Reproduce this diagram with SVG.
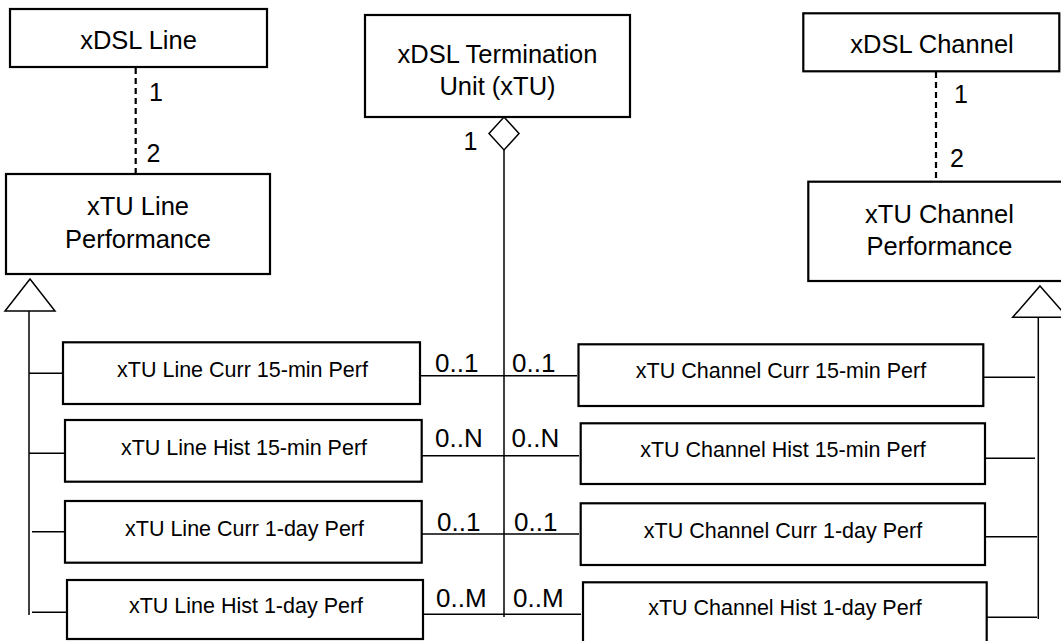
<svg xmlns="http://www.w3.org/2000/svg" width="1061" height="641" viewBox="0 0 1061 641">
<style>
.box{fill:#fff;stroke:#000;stroke-width:2.2}
.big{font-family:"Liberation Sans",Arial,sans-serif;font-size:25.5px;fill:#000;text-anchor:middle}
.sm{font-family:"Liberation Sans",Arial,sans-serif;font-size:21.5px;fill:#000;text-anchor:middle}
.mult{font-family:"Liberation Sans",Arial,sans-serif;font-size:25px;fill:#000}
.card{font-family:"Liberation Sans",Arial,sans-serif;font-size:26px;fill:#000}
.ln{fill:none;stroke:#000;stroke-width:1.5}
.dash{fill:none;stroke:#000;stroke-width:2.2;stroke-dasharray:6 4}
.tri{fill:#fff;stroke:#000;stroke-width:1.5}
</style>
<rect width="1061" height="641" fill="#fff"/>
<g id="connectors">
  <line class="dash" x1="135.7" y1="68" x2="135.7" y2="174"/>
  <line class="dash" x1="936" y1="72" x2="936" y2="181"/>
  <line class="ln" x1="504" y1="150" x2="504" y2="617"/>
  <polygon class="tri" points="504,117 519,133.5 504,150 489,133.5"/>
  <line class="ln" x1="420.7" y1="375.7" x2="577" y2="375.7"/>
  <line class="ln" x1="421.7" y1="455.7" x2="579" y2="455.7"/>
  <line class="ln" x1="421.7" y1="534" x2="579" y2="534"/>
  <line class="ln" x1="424" y1="614.3" x2="581" y2="614.3"/>
  <line class="ln" x1="29" y1="311" x2="29" y2="615"/>
  <polygon class="tri" points="30,279 55,311 5,311"/>
  <line class="ln" x1="29" y1="373.3" x2="63" y2="373.3"/>
  <line class="ln" x1="29" y1="453.3" x2="65" y2="453.3"/>
  <line class="ln" x1="32" y1="531.7" x2="65" y2="531.7"/>
  <line class="ln" x1="32" y1="612.3" x2="67" y2="612.3"/>
  <line class="ln" x1="1038.3" y1="317" x2="1038.3" y2="619"/>
  <polygon class="tri" points="1040,286 1067.5,317.3 1012.7,317.3"/>
  <line class="ln" x1="983" y1="377.3" x2="1035" y2="377.3"/>
  <line class="ln" x1="985" y1="458.3" x2="1035" y2="458.3"/>
  <line class="ln" x1="985" y1="536.7" x2="1037" y2="536.7"/>
  <line class="ln" x1="987" y1="617.3" x2="1037" y2="617.3"/>
  <text class="mult" x="149" y="101">1</text>
  <text class="mult" x="146.5" y="162">2</text>
  <text class="mult" x="954" y="103">1</text>
  <text class="mult" x="950" y="166.7">2</text>
  <text class="mult" x="463.5" y="150">1</text>
  <text class="card" x="435" y="371.7">0..1</text>
  <text class="card" x="512" y="371.7">0..1</text>
  <text class="card" x="435" y="446.7">0..N</text>
  <text class="card" x="511.5" y="446.7">0..N</text>
  <text class="card" x="437" y="530.7">0..1</text>
  <text class="card" x="514" y="530.7">0..1</text>
  <text class="card" x="436" y="607">0..M</text>
  <text class="card" x="513" y="607">0..M</text>
</g>
<g id="xdsl-line">
  <rect class="box" x="10" y="9" width="257" height="58"/>
  <text class="big" x="138.5" y="49">xDSL Line</text>
</g>
<g id="xtu">
  <rect class="box" x="365" y="15" width="265" height="102"/>
  <text class="big" x="497.5" y="63">xDSL Termination</text>
  <text class="big" x="497.5" y="95">Unit (xTU)</text>
</g>
<g id="xdsl-channel">
  <rect class="box" x="803.3" y="13.3" width="256" height="58"/>
  <text class="big" x="932" y="53.3">xDSL Channel</text>
</g>
<g id="xtu-line-perf">
  <rect class="box" x="6" y="174" width="264" height="100"/>
  <text class="big" x="138" y="215">xTU Line</text>
  <text class="big" x="138" y="248">Performance</text>
</g>
<g id="xtu-channel-perf">
  <rect class="box" x="808.3" y="181.7" width="260" height="99.3"/>
  <text class="big" x="939.5" y="223.3">xTU Channel</text>
  <text class="big" x="939.5" y="255">Performance</text>
</g>
<g id="line-curr-15">
  <rect class="box" x="63" y="342.3" width="357" height="61.7"/>
  <text class="sm" x="242.5" y="377">xTU Line Curr 15-min Perf</text>
</g>
<g id="line-hist-15">
  <rect class="box" x="65" y="420" width="356.7" height="61.7"/>
  <text class="sm" x="244" y="455">xTU Line Hist 15-min Perf</text>
</g>
<g id="line-curr-1d">
  <rect class="box" x="65" y="501" width="356.7" height="61.7"/>
  <text class="sm" x="244.5" y="536">xTU Line Curr 1-day Perf</text>
</g>
<g id="line-hist-1d">
  <rect class="box" x="67" y="580" width="356" height="59"/>
  <text class="sm" x="246" y="613">xTU Line Hist 1-day Perf</text>
</g>
<g id="chan-curr-15">
  <rect class="box" x="578.5" y="344.3" width="404.8" height="61.7"/>
  <text class="sm" x="781" y="378.3">xTU Channel Curr 15-min Perf</text>
</g>
<g id="chan-hist-15">
  <rect class="box" x="580.7" y="423.3" width="404.3" height="60.7"/>
  <text class="sm" x="783" y="456.7">xTU Channel Hist 15-min Perf</text>
</g>
<g id="chan-curr-1d">
  <rect class="box" x="580.7" y="503.3" width="404.3" height="61.7"/>
  <text class="sm" x="783" y="537.7">xTU Channel Curr 1-day Perf</text>
</g>
<g id="chan-hist-1d">
  <rect class="box" x="583" y="582.3" width="403.7" height="65"/>
  <text class="sm" x="785" y="615">xTU Channel Hist 1-day Perf</text>
</g>
</svg>
